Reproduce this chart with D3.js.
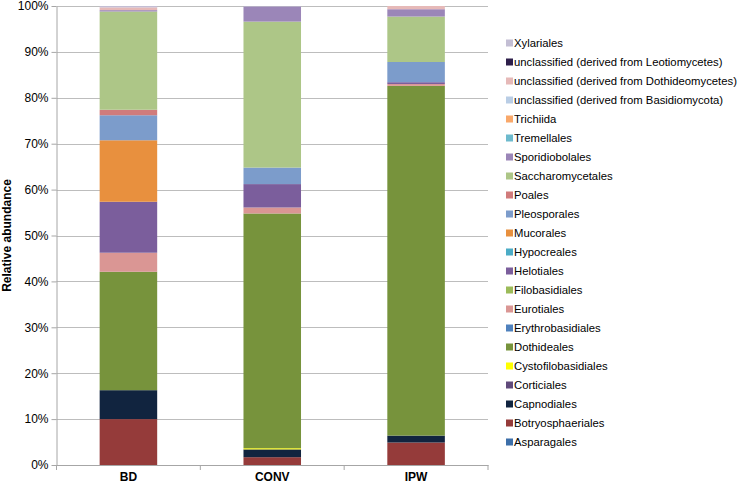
<!DOCTYPE html>
<html>
<head>
<meta charset="utf-8">
<script src="https://cdn.jsdelivr.net/npm/d3@7"></script>
<style>
	body { margin:0; background:#fff; }
	text { font-family: "Liberation Sans", Arial, sans-serif; }
</style>
</head>
<body>
<div id="chart"></div>
<script>
let categories = ["BD","CONV","IPW"];

// stacking order, bottom to top
let orders = ["Asparagales","Botryosphaeriales","Capnodiales","Corticiales","Cystofilobasidiales",
	"Dothideales","Erythrobasidiales","Eurotiales","Filobasidiales","Helotiales","Hypocreales",
	"Mucorales","Pleosporales","Poales","Saccharomycetales","Sporidiobolales","Tremellales",
	"Trichiida","unclassified (derived from Basidiomycota)","unclassified (derived from Dothideomycetes)",
	"unclassified (derived from Leotiomycetes)","Xylariales"];

// percent per order, same order as above
let valuesBD   = [0,10.0,6.3,0,0,25.8,0,4.15,0,11.1,0,13.4,5.45,1.2,21.4,0.3,0,0,0,0.6,0,0.3];
let valuesCONV = [0,1.7,1.7,0,0.25,51.15,0,1.3,0,5.1,0,0,3.6,0,31.8,3.3,0,0,0,0,0,0.1];
let valuesIPW  = [0,4.9,1.5,0,0,76.2,0,0.4,0,0.4,0,0,4.4,0,9.9,1.6,0,0,0,0.7,0,0];

let colors = ["#3D6FA9","#953B3A","#11243F","#604A7B","#FFFF00",
	"#77933C","#4F81BD","#DA9694","#9BBB59","#7B5E9C","#4BACC6",
	"#E8903E","#7C9CCB","#D07B7B","#ADC687","#9B86B8","#6DBACD",
	"#F9A86A","#B9CDE5","#E6B9B8",
	"#2E1F4A","#C3BED4"];

let yTicks = [0,10,20,30,40,50,60,70,80,90,100];

let width = 742, height = 485;
let margin = {top: 6, right: 254, bottom: 20, left: 56.5};
let width_ = width-margin.left-margin.right;
let height_ = height-margin.top-margin.bottom;

let table = categories.map(function(c,i) {
	let row = {cat: c};
	let vals = [valuesBD,valuesCONV,valuesIPW][i];
	orders.forEach(function(o,j) { row[o] = vals[j]; });
	return row;
});

let stack = d3.stack().keys(orders)(table);
let color = d3.scaleOrdinal().domain(orders).range(colors);

let x = d3.scaleBand().domain(categories).range([0,width_]).padding(0);
let y = d3.scaleLinear().domain([0,100]).range([height_,0]);
let barW = x.bandwidth()*0.4;

let svg = d3.select("#chart").append("svg")
			.attr("width",width)
			.attr("height",height);

let canvas = svg.append("g")
			.attr("transform","translate("+margin.left+","+margin.top+")");

canvas.append("g")
	.selectAll("line")
	.data(yTicks.slice(1))
	.join("line")
	.attr("x1",0)
	.attr("x2",width_)
	.attr("y1",d => Math.round(y(d))+0.5)
	.attr("y2",d => Math.round(y(d))+0.5)
	.attr("stroke","#BDBDBD")
	.attr("stroke-width",1);

canvas.append("g")
	.selectAll("g")
	.data(stack)
	.join("g")
	.attr("fill",d => color(d.key))
	.selectAll("rect")
	.data(d => d)
	.join("rect")
	.attr("x",d => x(d.data.cat)+(x.bandwidth()-barW)/2)
	.attr("width",barW)
	.attr("y",d => y(d[1]))
	.attr("height",d => y(d[0])-y(d[1]));

let yAxis = canvas.append("g")
	.call(d3.axisLeft(y).tickValues(yTicks).tickFormat(d => d+"%").tickSize(5).tickSizeOuter(0));
yAxis.select(".domain").attr("stroke","#A6A6A6");
yAxis.selectAll(".tick line").attr("stroke","#A6A6A6");
yAxis.selectAll("text").attr("fill","#000").attr("font-size","12px").attr("x",-8).attr("font-family","Liberation Sans, Arial, sans-serif");

let xAxis = canvas.append("g")
	.attr("transform","translate(0,"+height_+")")
	.call(d3.axisBottom(x).tickSize(0).tickPadding(7));
xAxis.select(".domain").attr("stroke","#A6A6A6");
xAxis.selectAll("text").attr("fill","#000").attr("font-size","12px").attr("font-weight","bold").attr("font-family","Liberation Sans, Arial, sans-serif");

// tick marks between categories
xAxis.append("g")
	.selectAll("line")
	.data(categories.map(c => x(c)).concat([width_]))
	.join("line")
	.attr("x1",d => d)
	.attr("x2",d => d)
	.attr("y1",0)
	.attr("y2",5)
	.attr("stroke","#A6A6A6");

svg.append("text")
	.attr("transform","translate(11,"+(margin.top+height_/2)+") rotate(-90)")
	.attr("text-anchor","middle")
	.attr("font-size","12px")
	.attr("font-weight","bold")
	.text("Relative abundance");

let legend = svg.append("g")
	.attr("transform","translate(506,43)");

let legItems = legend.selectAll("g")
	.data(orders.slice().reverse())
	.join("g")
	.attr("transform",(d,i) => "translate(0,"+(i*19)+")");

legItems.append("rect")
	.attr("x",0)
	.attr("y",-3.5)
	.attr("width",7)
	.attr("height",7)
	.attr("fill",d => color(d));

legItems.append("text")
	.attr("x",8)
	.attr("y",0)
	.attr("dy","0.35em")
	.attr("font-size","11.3px")
	.attr("fill","#000")
	.text(d => d);
</script>
</body>
</html>
